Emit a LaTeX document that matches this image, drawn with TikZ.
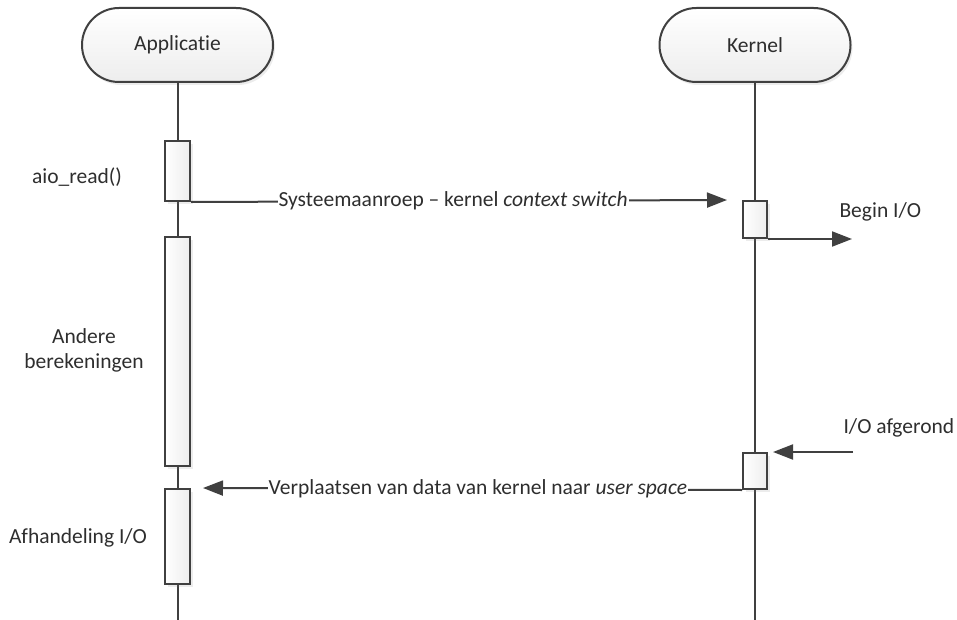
\documentclass[tikz,border=0pt]{standalone}
\usepackage{fontspec}
\setmainfont{Carlito}[Ligatures={NoCommon}]
\usetikzlibrary{arrows.meta,shadows}
\definecolor{ink}{HTML}{404040}
\definecolor{txt}{HTML}{2E2E2E}
\begin{document}
\begin{tikzpicture}[x=1pt,y=-1pt,
  font=\fontsize{21.5}{25}\selectfont, text=txt,
  line/.style={draw=ink, line width=2pt},
  msg/.style={line, -{Triangle[length=20pt,width=15pt]}},
  header/.style={line, rectangle, rounded corners=37pt, minimum width=191pt,
    minimum height=74pt, top color=white, bottom color=gray!14,
    drop shadow={shadow xshift=2pt, shadow yshift=-3pt, opacity=0.15}},
  act/.style={line, rectangle, minimum width=25pt, inner sep=0pt,
    left color=white, right color=gray!14,
    drop shadow={shadow xshift=3pt, shadow yshift=-3pt, opacity=0.15}},
  lbl/.style={fill=white, inner sep=1pt},
]
\useasboundingbox (0,0) rectangle (957,620);

% lifelines
\coordinate (append) at (177.5,620);
\coordinate (kerend) at (755,620);
\node[header] (app) at (177.5,45) {Applicatie};
\node[header] (ker) at (755,45) {Kernel};
\draw[line] (app.south) -- (append);
\draw[line] (ker.south) -- (kerend);

% activation bars
\node[act, minimum height=60pt]  (a1) at (177.5,171)   {};
\node[act, minimum height=229pt] (a2) at (177.5,351.5) {};
\node[act, minimum height=95pt]  (a3) at (177.5,536.5) {};
\node[act, minimum width=24pt, minimum height=37pt] (k1) at (755,219.5) {};
\node[act, minimum width=24pt, minimum height=36pt] (k2) at (755,471) {};

% side notes
\node (n1) at (77,177) {aio\_read()};
\node[align=center] (n2) at (84,350) {Andere\\berekeningen};
\node (n3) at (78,538) {Afhandeling I/O};
\node[anchor=west] (n4) at (836,212) {Begin I/O};
\node[anchor=west] (n5) at (840,428) {I/O afgerond};

% messages
\draw[msg] (a1.south east) -- node[lbl, pos=0.489] {Systeemaanroep – kernel \textit{context switch}} ([xshift=-15pt]k1.north west);
\coordinate (bio) at ([xshift=84pt]k1.south east);
\draw[msg] (k1.south east) -- (bio);
\coordinate (ioa) at ([xshift=85pt]k2.north east);
\draw[msg] (ioa) -- ([xshift=5pt]k2.north east);
\draw[msg] (k2.south west) -- node[lbl, pos=0.49] {Verplaatsen van data van kernel naar \textit{user space}} ([xshift=12pt]a3.north east);
\end{tikzpicture}
\end{document}
